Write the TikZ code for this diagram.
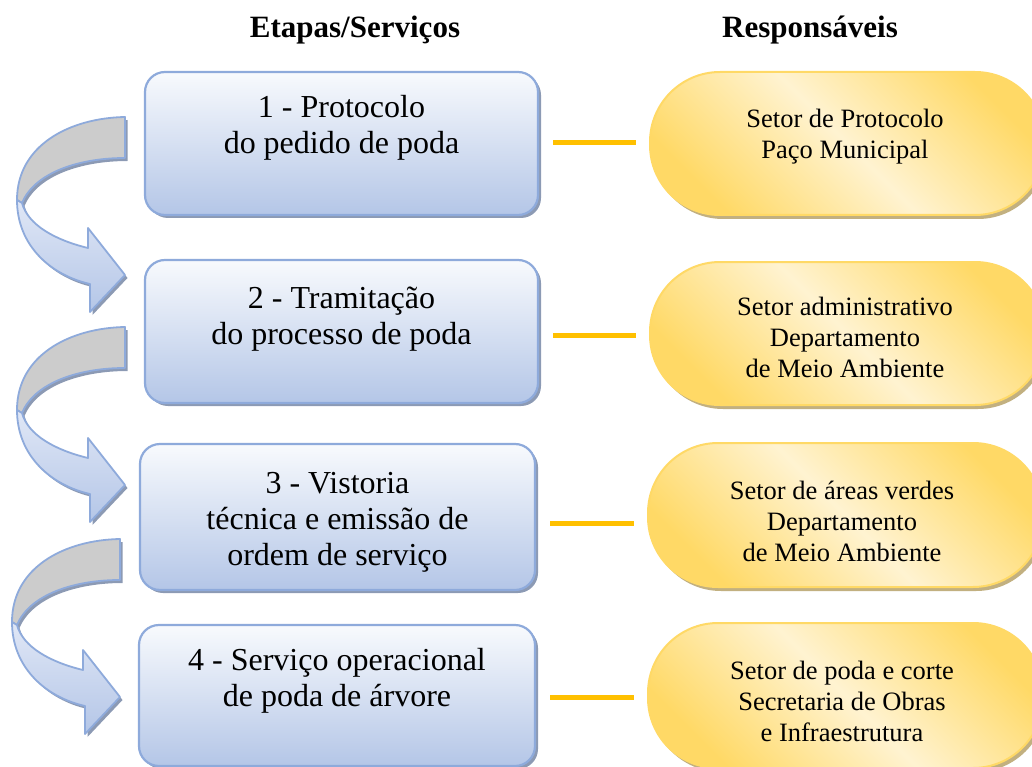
\documentclass[tikz,border=0pt]{standalone}
\usepackage{fontspec}
\setmainfont{Liberation Serif}
\usetikzlibrary{calc,shadows}
\definecolor{boxtop}{HTML}{F8FAFD}
\definecolor{boxbot}{HTML}{B4C6E7}
\definecolor{boxline}{HTML}{8EAADB}
\definecolor{boxshadow}{HTML}{8C9AB4}
\definecolor{pilldark}{HTML}{FFD966}
\definecolor{pilllight}{HTML}{FFF3D1}
\definecolor{pillline}{HTML}{FFD966}
\definecolor{pillshadow}{HTML}{C2B080}
\definecolor{linkorange}{HTML}{FFC000}
\definecolor{arrowtop}{HTML}{E0E7F6}
\definecolor{arrowgray}{HTML}{CCCCCC}
\begin{document}
\begin{tikzpicture}[x=1pt,y=-1pt,
  stepbox/.style={rectangle, rounded corners=20pt, draw=boxline, line width=2.2pt,
    top color=boxtop, bottom color=boxbot, inner sep=0pt,
    general shadow={fill=boxshadow, shadow xshift=3pt, shadow yshift=-3pt}},
  respbox/.style={rectangle, rounded corners=70pt, draw=pillline, line width=2pt,
    left color=pilldark, right color=pilldark, middle color=pilllight, shading angle=135,
    inner sep=0pt, minimum width=395pt,
    general shadow={fill=pillshadow, shadow xshift=3pt, shadow yshift=-4pt}},
  steptext/.style={font=\fontsize{32}{36}\selectfont, align=center, inner sep=0pt},
  resptext/.style={font=\fontsize{26.5}{31}\selectfont, align=center, inner sep=0pt},
  headtext/.style={font=\fontsize{31}{36}\selectfont\bfseries, inner sep=0pt},
  link/.style={draw=linkorange, line width=5pt, shorten <=14pt, shorten >=13pt},
  curvedarrow/.pic={
    \begin{scope}[shift={(2.5,3)}]
      \fill[boxshadow] (125,117) .. controls (70,118) and (17,145) .. (17,200)
        -- (22,203) .. controls (35,172) and (80,158) .. (125,158) -- cycle;
      \fill[boxshadow] (17,200) .. controls (17,245) and (50,275) .. (90,284)
        -- (90,312) -- (125,275) -- (88,228) -- (88,248)
        .. controls (55,240) and (28,225) .. (22,203) -- cycle;
    \end{scope}
    \path[draw=boxline, line width=1.8pt, fill=arrowgray, line join=round]
      (125,117) .. controls (70,118) and (17,145) .. (17,200)
      -- (22,203) .. controls (35,172) and (80,158) .. (125,158) -- cycle;
    \path[draw=boxline, line width=1.8pt, top color=arrowtop, bottom color=boxbot, line join=round]
      (17,200) .. controls (17,245) and (50,275) .. (90,284)
      -- (90,312) -- (125,275) -- (88,228) -- (88,248)
      .. controls (55,240) and (28,225) .. (22,203) -- cycle;
  }
]
\useasboundingbox (0,0) rectangle (1032,767);
\begin{scope}
\clip (0,0) rectangle (1032,767);

% headers
\node[headtext] (h1) at (355,30) {Etapas/Serviços};
\node[headtext] (h2) at (810,30) {Responsáveis};

% curved arrows
\pic at (0,0) {curvedarrow};
\pic at (0,210) {curvedarrow};
\pic at (-5,422) {curvedarrow};

% step boxes
\node[stepbox, minimum width=393pt, minimum height=143pt] (b1) at (341.5,143.5) {};
\node[stepbox, minimum width=393pt, minimum height=143pt] (b2) at (341.5,331.5) {};
\node[stepbox, minimum width=395pt, minimum height=146pt] (b3) at (337.5,517) {};
\node[stepbox, minimum width=396pt, minimum height=141pt] (b4) at (337,695.5) {};

\node[steptext] (t1) at (341.5,128) {\strut 1 - Protocolo\\\strut do pedido de poda};
\node[steptext] (t2) at (341.5,319) {\strut 2 - Tramitação\\\strut do processo de poda};
\node[steptext] (t3) at (337.5,522) {\strut 3 - Vistoria\\\strut técnica e emissão de\\\strut ordem de serviço};
\node[steptext] (t4) at (337,681) {\strut 4 - Serviço operacional\\\strut de poda de árvore};

% responsible boxes
\node[respbox, minimum height=143pt] (p1) at (847.5,143.5) {};
\node[respbox, minimum height=143pt] (p2) at (847.5,333.5) {};
\node[respbox, minimum height=144pt] (p3) at (845.5,515) {};
\node[respbox, minimum height=145pt] (p4) at (845.5,695.5) {};

\node[resptext] (r1) at (845,136.5) {\strut Setor de Protocolo\\\strut Paço Municipal};
\node[resptext] (r2) at (845,340) {\strut Setor administrativo\\\strut Departamento\\\strut de Meio Ambiente};
\node[resptext] (r3) at (842,524) {\strut Setor de áreas verdes\\\strut Departamento\\\strut de Meio Ambiente};
\node[resptext] (r4) at (842,704) {\strut Setor de poda e corte\\\strut Secretaria de Obras\\\strut e Infraestrutura};

% links
\draw[link] ($(b1.east)+(0,-1)$) -- ($(p1.west |- b1.east)+(0,-1)$);
\draw[link] ($(b2.east)+(0,4)$) -- ($(p2.west |- b2.east)+(0,4)$);
\draw[link] ($(b3.east)+(0,6)$) -- ($(p3.west |- b3.east)+(0,6)$);
\draw[link] ($(b4.east)+(0,2)$) -- ($(p4.west |- b4.east)+(0,2)$);
\end{scope}
\end{tikzpicture}
\end{document}
